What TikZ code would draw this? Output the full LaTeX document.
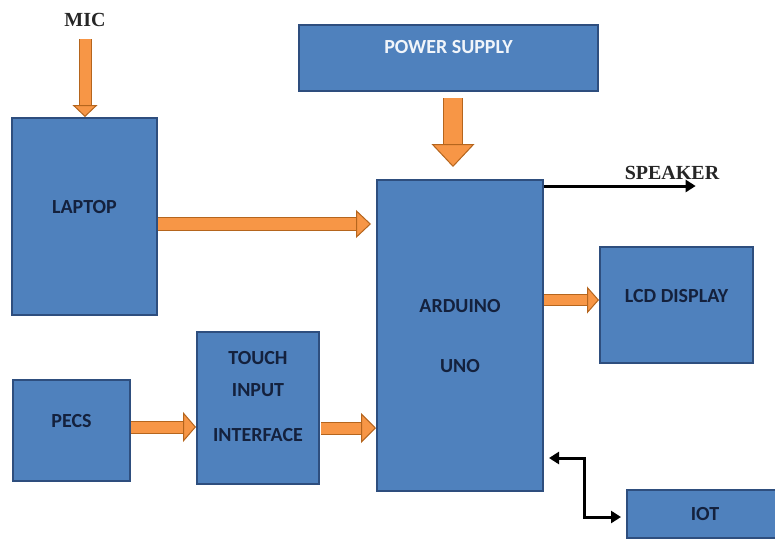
\documentclass[tikz,border=0pt]{standalone}
\usepackage{fontspec}
\setmainfont{Carlito}
\newfontfamily\labfont{Liberation Serif}
\usetikzlibrary{arrows.meta,calc}

\definecolor{boxfill}{HTML}{4F81BD}
\definecolor{boxedge}{HTML}{2E4E7E}
\definecolor{boxtext}{HTML}{14213D}
\definecolor{pipefill}{HTML}{F79646}
\definecolor{pipeedge}{HTML}{B5651D}

\begin{document}
\begin{tikzpicture}[
  x=0.5pt, y=-0.5pt, font=\bfseries,
  box/.style  ={draw=boxedge,fill=boxfill,line width=1pt,text=boxtext,align=center,
                inner sep=0pt,text depth=9.5pt},
  lab/.style  ={font=\labfont\bfseries,text=black!85,inner sep=2pt},
  pipe/.style n args={3}{draw=pipeedge,double=pipefill,line width=0.5pt,double distance=#1,
                -{Triangle[width=#2,length=#3,line width=0.5pt,fill=pipefill]}},
  wire/.style ={draw=black,line width=1.5pt,-{Triangle[width=6pt,length=5pt]}},
  wire2/.style={draw=black,line width=1.5pt,{Triangle[width=6pt,length=5pt]}-{Triangle[width=6pt,length=5pt]}},
]
\useasboundingbox (0,0) rectangle (775,541);

% ----------------------------------------------------------- blocks
\node[box,minimum width=72.5pt,minimum height=98.5pt] (laptop) at (84.5,216.5) {LAPTOP};
\node[box,minimum width=149.5pt,minimum height=33pt,text=white!92!boxfill,text depth=11pt]
  (power) at (448.5,58) {POWER SUPPLY};
\node[box,minimum width=83pt,minimum height=155.5pt,text depth=0pt] (ardu) at (460,335.5)
  {ARDUINO\\[18pt]UNO};
\node[box,minimum width=76.5pt,minimum height=58pt] (lcd) at (676.5,305) {LCD DISPLAY};
\node[box,minimum width=58.5pt,minimum height=50.5pt,text depth=10pt] (pecs) at (71.5,430.5) {PECS};
\node[box,minimum width=61pt,minimum height=76pt,text depth=11.5pt] (touch) at (258,408)
  {TOUCH\\[4pt]INPUT\\[10.5pt]INTERFACE};
\node[box,minimum width=78pt,minimum height=24pt,text depth=0pt] (iot) at (705,514) {IOT};

% ----------------------------------------------------------- free labels
\node[lab] (mic) at (85,20) {MIC};
\node[lab] (spk) at (672,173) {SPEAKER};

% ----------------------------------------------------------- orange block arrows
\draw[pipe={5.5pt}{12.5pt}{6pt},shorten <=4pt] (mic.south) -- (mic.south |- laptop.north);
\coordinate (pw) at ($(power.south)+(4.5,6)$);
\draw[pipe={9pt}{21.5pt}{11.5pt},shorten >=6pt] (pw) -- (pw |- ardu.north);
\coordinate (lp) at ($(laptop.east)+(0,7.5)$);
\draw[pipe={6pt}{14pt}{7.5pt},shorten >=2.5pt] (lp) -- (lp -| ardu.west);
\coordinate (ul) at ($(ardu.east)+(0,-35.5)$);
\draw[pipe={5pt}{13.5pt}{6pt}] (ul) -- (ul -| lcd.west);
\coordinate (pt) at ($(pecs.east)+(0,-3.5)$);
\draw[pipe={5.5pt}{15pt}{6.5pt}] (pt) -- (pt -| touch.west);
\coordinate (ta) at ($(touch.east)+(0,20)$);
\draw[pipe={5.5pt}{15pt}{7.5pt},shorten <=0.5pt] (ta) -- (ta -| ardu.west);

% ----------------------------------------------------------- black lines
\coordinate (sp) at ($(ardu.north east)+(0,7)$);
\draw[wire,shorten >=14pt] (sp) -- (sp -| spk.east);
\coordinate (io) at ($(ardu.south east)+(0,-34)$);
\draw[wire2,shorten <=2.5pt,shorten >=2.5pt] (io) -- ++(40,0) |- ([yshift=-1.5pt]iot.west);

\end{tikzpicture}
\end{document}
